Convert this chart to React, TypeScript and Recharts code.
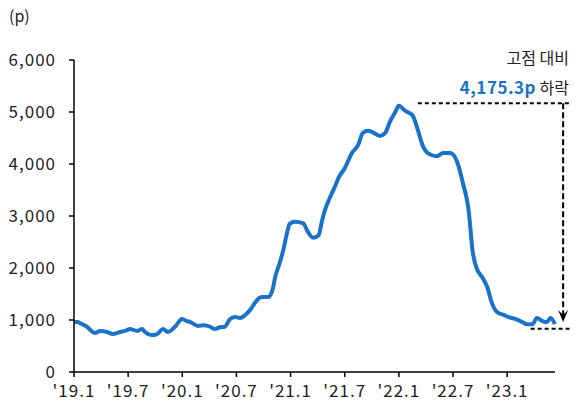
import { LineChart, Line, XAxis, YAxis, ReferenceLine } from 'recharts'

// months since Jan 2019
const months = [
  0, 0.44, 0.67, 1.44, 2.33, 2.88, 3.66, 4.32, 5.1, 5.65, 6.2, 6.98, 7.54, 7.87, 8.65, 9.2, 9.87, 10.4,
  11.2, 11.97, 12.5, 12.9, 13.75, 14.3, 15.1, 15.6, 16.2, 16.7, 17.3, 17.8, 18.4, 19.0, 19.5, 20.3, 20.8,
  21.5, 22.0, 22.3, 22.8, 23.2, 23.6, 23.9, 24.5, 25.4, 25.9, 26.5, 27.1, 27.5, 27.8, 28.4, 28.9, 29.3,
  30.0, 30.8, 31.5, 32.0, 32.6, 33.1, 33.9, 34.5, 35.0, 35.6, 36.0, 36.7, 37.5, 38.0, 38.7, 39.2, 40.2,
  40.9, 41.7, 42.5, 43.1, 43.7, 44.2, 44.7, 45.2, 45.8, 46.3, 46.9, 47.6, 48.1, 48.9, 49.7, 50.2, 50.8,
  51.3, 51.9, 52.4, 52.8, 53.3
]

const index = [
  960, 960, 940, 870, 750, 790, 770, 730, 770, 790, 825, 790, 825, 770, 710, 730, 825, 770,
  870, 1020, 980, 960, 885, 900, 870, 825, 860, 870, 1020, 1060, 1040, 1100, 1190, 1385, 1440,
  1440, 1580, 1830, 2100, 2350, 2670, 2850, 2890, 2860, 2700, 2580, 2630, 2920, 3110, 3370, 3560, 3730,
  3920, 4210, 4370, 4600, 4640, 4610, 4540, 4600, 4810, 5000, 5120, 5020, 4940, 4710, 4330, 4210, 4150,
  4210, 4210, 4020, 3630, 3150, 2290, 1960, 1830, 1630, 1330, 1150, 1100, 1060, 1020, 960, 920, 920,
  1040, 980, 960, 1040, 920
]

const xTicks = [0, 6, 12, 18, 24, 30, 36, 42, 48]
const xLabels = ["'19.1", "'19.7", "'20.1", "'20.7", "'21.1", "'21.7", "'22.1", "'22.7", "'23.1"]
const yTicks = [0, 1000, 2000, 3000, 4000, 5000, 6000]

const peakLevel = 5170
const lowLevel = 830

const data = months.map((m, i) => ({ m, v: index[i] }))

const FONT = '"Noto Sans CJK KR", "Noto Sans", sans-serif'
const BLUE = '#1a73c8'

const ArrowLine = (p: any) => {
  const { x1, y1, x2, y2 } = p
  return (
    <g>
      <line x1={x1} y1={y1} x2={x2} y2={y2 - 6} stroke="#000" strokeWidth={2} strokeDasharray="6 3" />
      <path d={`M${x2 - 5},${y2 - 12} L${x2},${y2} L${x2 + 5},${y2 - 12} L${x2},${y2 - 7} Z`} fill="#000" />
    </g>
  )
}

export default function App() {
  return (
    <div style={{ position: 'relative', width: 571, height: 397, fontFamily: FONT }}>
      <div style={{ position: 'absolute', left: 1, top: -1, fontSize: 16, lineHeight: '16px', color: '#222' }}>(p)</div>
      <div style={{ position: 'absolute', right: 10, top: 41, fontSize: 16, lineHeight: '16px', color: '#222' }}>고점 대비</div>
      <div style={{ position: 'absolute', right: 10, top: 71, fontSize: 16, lineHeight: '16px', color: '#222' }}>
        <span style={{ color: BLUE, fontWeight: 700, fontSize: 17, letterSpacing: 0.5 }}>4,175.3p</span> 하락
      </div>
      <LineChart width={571} height={397} data={data} margin={{ top: 52, right: 24, bottom: 3, left: 0 }}>
        <XAxis
          dataKey="m"
          type="number"
          domain={[0, 53.3]}
          ticks={xTicks}
          tickFormatter={(v) => xLabels[xTicks.indexOf(v)] ?? ''}
          height={30}
          tickSize={5}
          tickMargin={8}
          axisLine={{ stroke: '#000', strokeWidth: 1.5 }}
          tickLine={{ stroke: '#000', strokeWidth: 1.5 }}
          tick={{ fontSize: 17, fill: '#222', fontFamily: FONT, letterSpacing: 1 }}
          interval={0}
        />
        <YAxis
          domain={[0, 6000]}
          ticks={yTicks}
          width={66}
          tickSize={5}
          tickMargin={13}
          tickFormatter={(v) => v.toLocaleString('en-US')}
          axisLine={{ stroke: '#000', strokeWidth: 1.5 }}
          tickLine={{ stroke: '#000', strokeWidth: 1.5 }}
          tick={{ fontSize: 17, fill: '#222', fontFamily: FONT, letterSpacing: 1 }}
        />
        <Line
          dataKey="v"
          type="monotone"
          stroke={BLUE}
          strokeWidth={4}
          dot={false}
          isAnimationActive={false}
        />
        <ReferenceLine
          segment={[{ x: 38.1, y: peakLevel }, { x: 56, y: peakLevel }]}
          stroke="#000"
          strokeWidth={2}
          strokeDasharray="4 3"
          ifOverflow="visible"
        />
        <ReferenceLine
          segment={[{ x: 50.6, y: lowLevel }, { x: 56, y: lowLevel }]}
          stroke="#000"
          strokeWidth={2}
          strokeDasharray="4 3"
          ifOverflow="visible"
        />
        <ReferenceLine
          segment={[{ x: 54.2, y: peakLevel }, { x: 54.2, y: 960 }]}
          ifOverflow="visible"
          shape={ArrowLine}
        />
      </LineChart>
    </div>
  )
}
